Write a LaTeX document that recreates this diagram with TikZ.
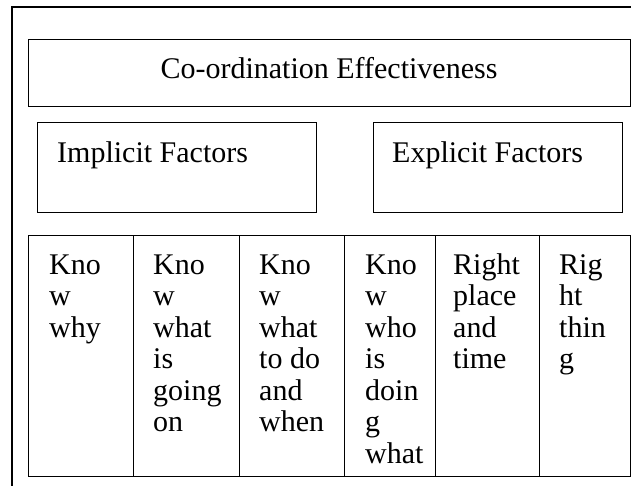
\documentclass[tikz,border=0pt]{standalone}
\usepackage{fontspec}
\setmainfont{Liberation Serif}
\begin{document}
\begin{tikzpicture}[x=1pt,y=-1pt,
  box/.style={draw, line width=1.4pt, inner sep=0pt, anchor=north west},
  lbl/.style={inner sep=0pt, font=\fontsize{30}{31.5}\selectfont},
  cell/.style={lbl, anchor=base west}]
\useasboundingbox (0,0) rectangle (631,486);
\clip (0,0) rectangle (631,486);
% outer frame (runs off the right and bottom edges)
\draw[line width=1.4pt] (12,7) rectangle (660,520);
% boxes
\node[box, minimum width=602pt, minimum height=67pt] (top) at (28,39) {};
\node[box, minimum width=279pt, minimum height=90pt] (impl) at (37,122) {};
\node[box, minimum width=249pt, minimum height=90pt] (expl) at (373,122) {};
% table columns
\node[box, minimum width=105pt, minimum height=241pt] (c1) at (28,235) {};
\node[box, minimum width=106pt, minimum height=241pt] (c2) at (133,235) {};
\node[box, minimum width=105pt, minimum height=241pt] (c3) at (239,235) {};
\node[box, minimum width=91pt, minimum height=241pt] (c4) at (344,235) {};
\node[box, minimum width=104pt, minimum height=241pt] (c5) at (435,235) {};
\node[box, minimum width=91pt, minimum height=241pt] (c6) at (539,235) {};
% texts
\node[lbl, anchor=base] (ttop) at (329,79) {Co-ordination Effectiveness};
\node[cell] (timpl) at (57,163) {Implicit Factors};
\node[cell] (texpl) at (392,163) {Explicit Factors};
\node[cell] (t1) at (49,274) {\begin{tabular}[t]{@{}l@{}}Kno\\w\\why\end{tabular}};
\node[cell] (t2) at (153,274) {\begin{tabular}[t]{@{}l@{}}Kno\\w\\what\\is\\going\\on\end{tabular}};
\node[cell] (t3) at (259,274) {\begin{tabular}[t]{@{}l@{}}Kno\\w\\what\\to do\\and\\when\end{tabular}};
\node[cell] (t4) at (365,274) {\begin{tabular}[t]{@{}l@{}}Kno\\w\\who\\is\\doin\\g\\what\end{tabular}};
\node[cell] (t5) at (453,274) {\begin{tabular}[t]{@{}l@{}}Right\\place\\and\\time\end{tabular}};
\node[cell] (t6) at (559,274) {\begin{tabular}[t]{@{}l@{}}Rig\\ht\\thin\\g\end{tabular}};
\end{tikzpicture}
\end{document}
